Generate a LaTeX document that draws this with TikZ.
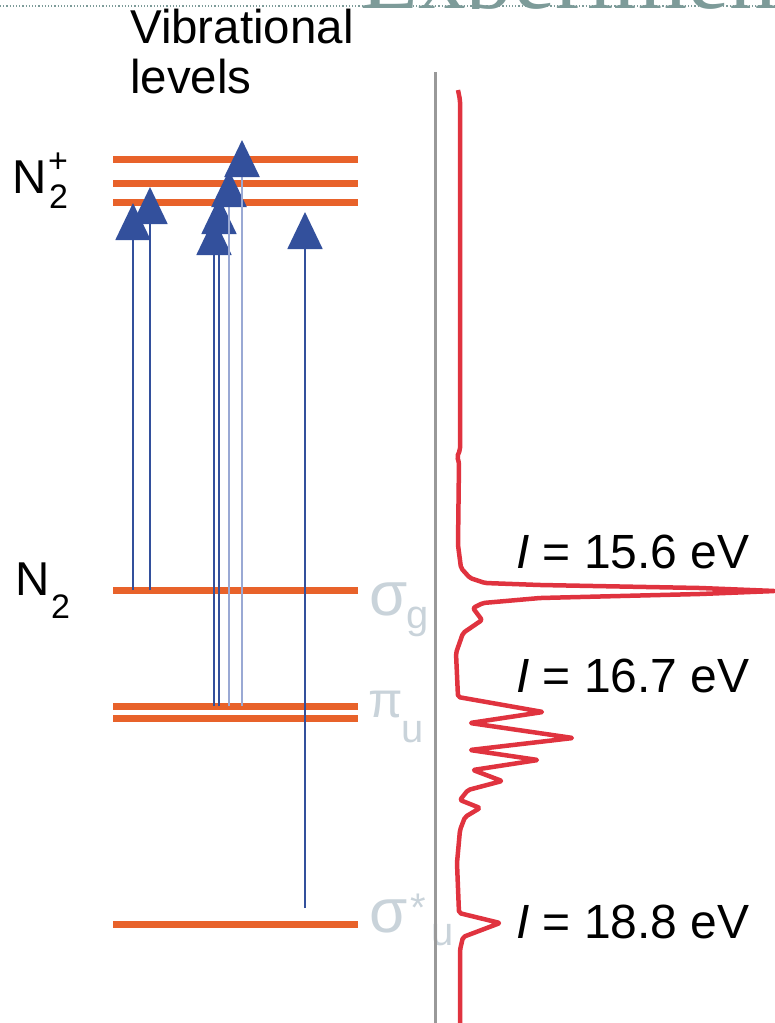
\documentclass[tikz,border=0pt]{standalone}
\usepackage{fontspec}
\setmainfont{Liberation Sans}
\newfontfamily\titlefont{Liberation Serif}
\usepackage{tikz}
\usetikzlibrary{arrows.meta}
\definecolor{levelorange}{HTML}{E8622A}
\definecolor{excblue}{HTML}{33509C}
\definecolor{excpale}{HTML}{9AA9D4}
\definecolor{specred}{HTML}{E0333F}
\definecolor{orbgray}{HTML}{C9D3DA}
\definecolor{titleteal}{HTML}{7D9B99}

\begin{document}
\begin{tikzpicture}[x=1pt, y=-1pt, level/.style={draw=levelorange, line width=7pt}, exc/.style={draw=excblue, line width=1.8pt, -{Triangle[width=35pt, length=37pt, color=excblue]}}, excpale/.style={exc, draw=excpale, line width=2.6pt}, label/.style={inner sep=0pt, anchor=base west, font=\fontsize{47.5}{47.5}\selectfont}, sublabel/.style={label, font=\fontsize{34}{34}\selectfont}, energy/.style={label, font=\fontsize{48}{48}\selectfont}, orb/.style={inner sep=0pt, anchor=base west, text=orbgray, font=\fontsize{62}{62}\selectfont}, orbpi/.style={orb, font=\fontsize{50}{50}\selectfont}, orbsub/.style={orb, font=\fontsize{40}{40}\selectfont}, axis/.style={draw=black!40, line width=3pt}, spectrum/.style={draw=specred, line width=4.5pt, line join=round, rounded corners=2pt}]

    \useasboundingbox (0,0) rectangle (775,1023);

    % Title (cut off)
    \begin{scope}
        \clip (0,0) rectangle (775,8);
        \node[inner sep=0pt, anchor=base west, text=titleteal, font=\titlefont\fontsize{95}{95}\selectfont] (title) at (360,8) {Experiment};
    \end{scope}
    \draw[dotted, titleteal, line width=1.2pt] (0,6) -- (775,6);

    % Levels
    \coordinate (ion1) at (113,159);
    \coordinate (ion2) at (113,183);
    \coordinate (ion3) at (113,202);
    \coordinate (sigg) at (113,590);
    \coordinate (piu1) at (113,706);
    \coordinate (piu2) at (113,718);
    \coordinate (sigu) at (113,924);
    \foreach \lv in {ion1, ion2, ion3, sigg, piu1, piu2, sigu}
        \draw[level] (\lv) -- ++(245,0);

    % Arrow tips
    \coordinate (t1) at (133,203);
    \coordinate (t2) at (150,187);
    \coordinate (t3) at (214,218);
    \coordinate (t4) at (219,197);
    \coordinate (t5) at (229,170);
    \coordinate (t6) at (242,140);
    \coordinate (t7) at (305,212);
    \coordinate (s7) at (305,908);

    % Excitations ---------------
    \draw[exc] (t1 |- sigg) -- (t1);
    \draw[exc] (t2 |- sigg) -- (t2);
    \draw[exc] (t3 |- piu1) -- (t3);
    \draw[exc] (t4 |- piu1) -- (t4);
    \draw[excpale] (t5 |- piu1) -- (t5);
    \draw[excpale] (t6 |- piu1) -- (t6);
    \draw[exc] (s7) -- (t7);

    % Labels
    \node[label] (vib) at (130,43) {Vibrational};
    \node[label] (lev) at (130,93) {levels};
    \node[label] (nion) at (12,193) {N};
    \node[sublabel] (nionsub) at (49,208) {2};
    \node[sublabel] (nionsup) at (48,172) {+};
    \node[label] (nmol) at (15,595) {N};
    \node[sublabel] (nmolsub) at (51,618) {2};

    % Orbitals
    \node[orb] (sgname) at (369,615) {σ};
    \node[orbsub] (sgsub) at (406,628) {g};
    \node[orbpi] (puname) at (368,717) {π};
    \node[orbsub] (pusub) at (401,742) {u};
    \node[orb] (suname) at (369,932) {σ};
    \node[orbsub] (sustar) at (410,921) {*};
    \node[orbsub] (susub) at (431,945) {u};

    % Spectrum ---------------
    \coordinate (axtop) at (435,72);
    \coordinate (axbot) at (435,1023);
    \draw[axis] (axtop) -- (axbot);
    \draw[spectrum] (458,90) -- (460,100) -- (460,450) -- (457,457) -- (459,462) -- (458,545)
        -- (461,568) -- (470,578) -- (485,583) -- (540,585) -- (700,588) -- (775,591)
        -- (700,594) -- (540,598) -- (483,603) -- (473,608) -- (482,620) -- (463,633)
        -- (456,653) -- (458,697) -- (543,712) -- (470,723) -- (573,738) -- (470,750)
        -- (538,760) -- (473,770) -- (502,781) -- (468,790) -- (460,800) -- (480,808)
        -- (465,817) -- (460,830) -- (457,863) -- (459,913) -- (500,923) -- (463,937)
        -- (460,950) -- (460,1023);

    % Energies
    \node[energy] (e1) at (516,568) {\textit{I} = 15.6 eV};
    \node[energy] (e2) at (516,692) {\textit{I} = 16.7 eV};
    \node[energy] (e3) at (516,938) {\textit{I} = 18.8 eV};

\end{tikzpicture}
\end{document}
